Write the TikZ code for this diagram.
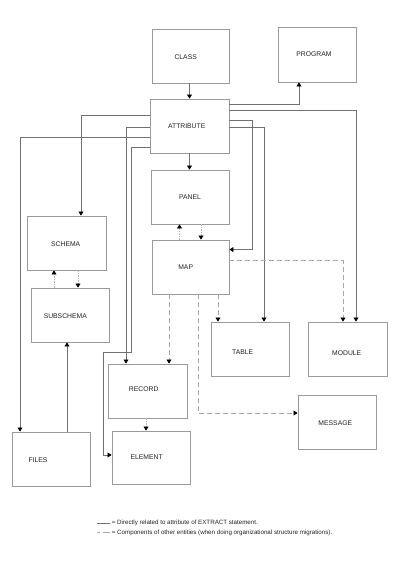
\documentclass[tikz,border=0pt]{standalone}
\usepackage{fontspec}
\setmainfont{Liberation Sans}
\usetikzlibrary{arrows.meta}
\definecolor{boxc}{HTML}{9A9A9A}
\definecolor{linec}{HTML}{707070}
\definecolor{dashc}{HTML}{A8A8A8}
\definecolor{dotc}{HTML}{B4B4B4}
\definecolor{txtc}{HTML}{222222}
\begin{document}
\begin{tikzpicture}[x=1pt,y=-1pt,
  box/.style={draw=boxc,line width=0.9pt,inner sep=0pt,minimum width=78pt,minimum height=54pt},
  lbl/.style={text=txtc,font=\fontsize{6.8}{7.5}\selectfont,inner sep=0pt},
  conn/.style={draw=linec,line width=0.7pt,-{Triangle[width=5pt,length=4pt,black]}},
  dconn/.style={draw=dashc,line width=0.8pt,dash pattern=on 5pt off 3pt,-{Triangle[width=5pt,length=4pt,black]}},
  tconn/.style={draw=dotc,line width=0.6pt,dash pattern=on 1.5pt off 1pt,-{Triangle[width=5pt,length=4pt,black]}}]
\useasboundingbox (0,0) rectangle (414,566);
\fill[white] (0,0) rectangle (414,566);
% boxes
\node[box,minimum width=77pt] (class) at (190.5,56) {};
\node[box,minimum height=55pt] (prog) at (317,54.5) {};
\node[box,minimum width=79pt] (attr) at (189.5,126) {};
\node[box] (panel) at (190,197) {};
\node[box,minimum width=77pt] (map) at (190.5,267) {};
\node[box,minimum width=79pt] (schema) at (66.5,243) {};
\node[box] (subschema) at (70,315) {};
\node[box] (table) at (250,349) {};
\node[box,minimum width=79pt] (module) at (347.5,349) {};
\node[box,minimum width=79pt] (record) at (147.5,391) {};
\node[box,minimum height=53pt] (element) at (151,457.5) {};
\node[box] (message) at (337,422) {};
\node[box] (files) at (51,459) {};
% labels
\node[lbl] (lclass) at (185.7,56.7) {CLASS};
\node[lbl] (lprog) at (314,54) {PROGRAM};
\node[lbl] (lattr) at (186.7,126.5) {ATTRIBUTE};
\node[lbl] (lpanel) at (190,196.7) {PANEL};
\node[lbl] (lschema) at (65.7,243.7) {SCHEMA};
\node[lbl] (lmap) at (185.7,266.7) {MAP};
\node[lbl] (lsub) at (65.3,315.7) {SUBSCHEMA};
\node[lbl] (ltable) at (242.7,352) {TABLE};
\node[lbl] (lmodule) at (346.7,352.7) {MODULE};
\node[lbl] (lrecord) at (143.7,389.3) {RECORD};
\node[lbl] (lfiles) at (38,460.3) {FILES};
\node[lbl] (lelement) at (146.7,457.3) {ELEMENT};
\node[lbl] (lmessage) at (335.3,422.7) {MESSAGE};
% solid connectors
\draw[conn] ([xshift=-1pt]class.south) -- ([xshift=-1pt]class.south |- attr.north);
\draw[conn] ([yshift=-6pt]attr.north east) -| ([xshift=-18pt]prog.south);
\draw[conn] ([yshift=-12pt]attr.north east) -| ([xshift=8.5pt]module.north);
\draw[conn] ([yshift=-22pt]attr.north east) -- ++(23pt,0) |- ([yshift=-10pt]map.north east);
\draw[conn] ([yshift=-29pt]attr.north east) -| ([xshift=14pt]table.north);
\draw[conn] ([yshift=-17pt]attr.north west) -| ([xshift=14.5pt]schema.north);
\draw[conn] ([yshift=-39pt]attr.north west) -| ([xshift=-31pt]files.north);
\draw[conn] ([yshift=-29pt]attr.north west) -| ([xshift=-21.5pt]record.north);
\draw[conn] ([yshift=-49pt]attr.north west) -- ++(-18pt,0) -- ++(0,-205pt) -- ++(-28pt,0) |- ([yshift=2.5pt]element.west);
\draw[conn] (attr.south) -- (attr.south |- panel.north);
\draw[conn] ([xshift=16pt]files.north) -- ([xshift=16pt]files.north |- subschema.south);
% dotted short connectors
\draw[tconn] ([xshift=-11pt]map.north) -- ([xshift=-11pt]map.north |- panel.south);
\draw[tconn] ([xshift=11pt]panel.south) -- ([xshift=11pt]panel.south |- map.north);
\draw[tconn] ([xshift=-16pt]subschema.north) -- ([xshift=-16pt]subschema.north |- schema.south);
\draw[tconn] ([xshift=11.5pt]schema.south) -- ([xshift=11.5pt]schema.south |- subschema.north);
\draw[tconn] ([xshift=-1.5pt]record.south) -- ([xshift=-1.5pt]record.south |- element.north);
% dashed connectors
\draw[dconn] ([yshift=-21pt]map.north east) -| ([xshift=-4.5pt]module.north);
\draw[dconn] ([xshift=-21.5pt]map.south) -- ([xshift=-21.5pt]map.south |- record.north);
\draw[dconn] ([xshift=27.5pt]map.south) -- ([xshift=27.5pt]map.south |- table.north);
\draw[dconn] ([xshift=7.5pt]map.south) |- ([yshift=9pt]message.west);
% legend
\coordinate (ls1) at (97,523.3);
\coordinate (ls2) at (109.5,523.3);
\coordinate (ld1) at (97,532.7);
\coordinate (ld2) at (109.5,532.7);
\draw[linec,line width=0.6pt] (ls1) -- (ls2);
\draw[dashc,line width=0.7pt,dash pattern=on 3pt off 3pt on 6.5pt off 3pt] (ld1) -- (ld2);
\node[lbl,anchor=west,font=\fontsize{6.2}{7}\selectfont] (leg1) at (111.7,523.3) {= Directly related to attribute of EXTRACT statement.};
\node[lbl,anchor=west,font=\fontsize{6.2}{7}\selectfont] (leg2) at (111.7,532.7) {= Components of other entities (when doing organizational structure migrations).};
\end{tikzpicture}
\end{document}
